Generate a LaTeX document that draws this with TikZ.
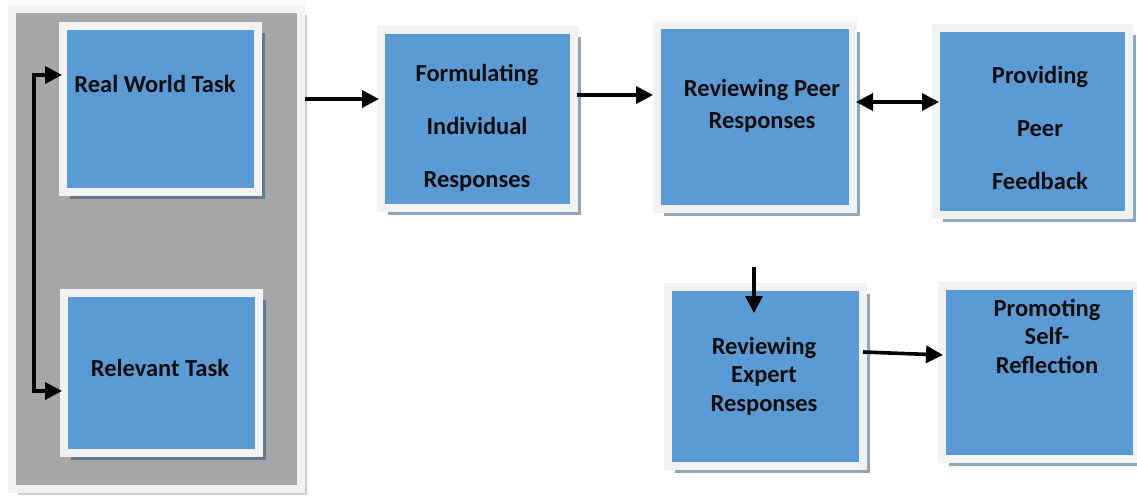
\documentclass[tikz,border=0pt]{standalone}
\usepackage{fontspec}
\setmainfont{Carlito}
\usetikzlibrary{arrows.meta,shadows,calc}
\definecolor{boxblue}{HTML}{5B9BD5}
\definecolor{framegray}{HTML}{F2F2F2}
\definecolor{panelgray}{HTML}{A6A6A6}
\definecolor{shblue}{HTML}{1F4E79}
\definecolor{textc}{HTML}{0D0D0D}
\begin{document}
\begin{tikzpicture}[x=1pt,y=-1pt,
  >={Triangle[length=17pt,width=17pt]},
  stepbox/.style={draw=framegray, line width=8pt, fill=boxblue, inner sep=0pt,
     drop shadow={shadow xshift=7pt, shadow yshift=-7pt, fill=shblue, opacity=.5}},
  panelbox/.style={draw=framegray, line width=8pt, fill=panelgray, inner sep=0pt,
     drop shadow={shadow xshift=6pt, shadow yshift=-6pt, fill=black, opacity=.2}},
  txt/.style={font=\fontsize{24.5}{29}\selectfont\bfseries, align=center, text=textc, inner sep=0pt},
  conn/.style={draw=black, line width=3.6pt}
]
\useasboundingbox (0,0) rectangle (1137,495);
\fill[white] (0,0) rectangle (1137,495);

\node[panelbox, minimum width=289pt, minimum height=480pt] (panel) at (156.5,249) {};

\node[stepbox, minimum width=195pt, minimum height=166pt] (rw) at (160.5,109) {};
\node[stepbox, minimum width=195pt, minimum height=160pt] (rel) at (161.5,373) {};
\node[stepbox, minimum width=193pt, minimum height=178pt] (form) at (477.5,119) {};
\node[stepbox, minimum width=196pt, minimum height=184pt] (peer) at (755,117) {};
\node[stepbox, minimum width=193pt, minimum height=187pt] (prov) at (1032.5,121.5) {};
\node[stepbox, minimum width=195pt, minimum height=179pt] (exp) at (765.5,376.5) {};
\node[stepbox, minimum width=195pt, minimum height=173pt] (prom) at (1039.5,372.5) {};

\node[txt] (t1) at (155,84) {Real World Task};
\node[txt] (t2) at (160,368) {Relevant Task};
\node[txt] (t3) at (477,128) {Formulating\\[24pt]Individual\\[24pt]Responses};
\node[txt] (t4) at (762,106) {Reviewing Peer\\[3pt]Responses};
\node[txt] (t5) at (1040,128) {Providing\\[24pt]Peer\\[24pt]Feedback};
\node[txt] (t6) at (764,376) {Reviewing\\[-0.5pt]Expert\\[-0.5pt]Responses};
\node[txt] (t7) at (1047,336) {Promoting\\[-0.5pt]Self-\\[-0.5pt]Reflection};

% left loop
\coordinate (lt) at ($(rw.west)+(3,-34)$);
\coordinate (lb) at ($(rel.west)+(2,18)$);
\draw[conn,<->] (lt) -- ++(-28,0) |- (lb);

% panel -> formulating
\coordinate (fa) at ($(form.west)+(2,-20)$);
\draw[conn,->] (panel.east |- fa) -- (fa);

% formulating -> peer
\coordinate (fb) at ($(form.east)+(-1,-24)$);
\draw[conn,->] (fb) -- (fb -| peer.west);

% peer <-> providing
\coordinate (pc) at ($(peer.east)+(-1,-15)$);
\draw[conn,<->] (pc) -- ($(pc -| prov.west)+(7,0)$);

% down arrow into expert
\coordinate (dtop) at (754,267);
\draw[conn,line width=3.2pt,->] (dtop) -- ($(dtop |- exp.north)+(0,30)$);

% expert -> promoting
\draw[conn,->] ($(exp.east)+(-4,-24.5)$) -- ($(prom.west)+(5,-17.5)$);
\end{tikzpicture}
\end{document}
